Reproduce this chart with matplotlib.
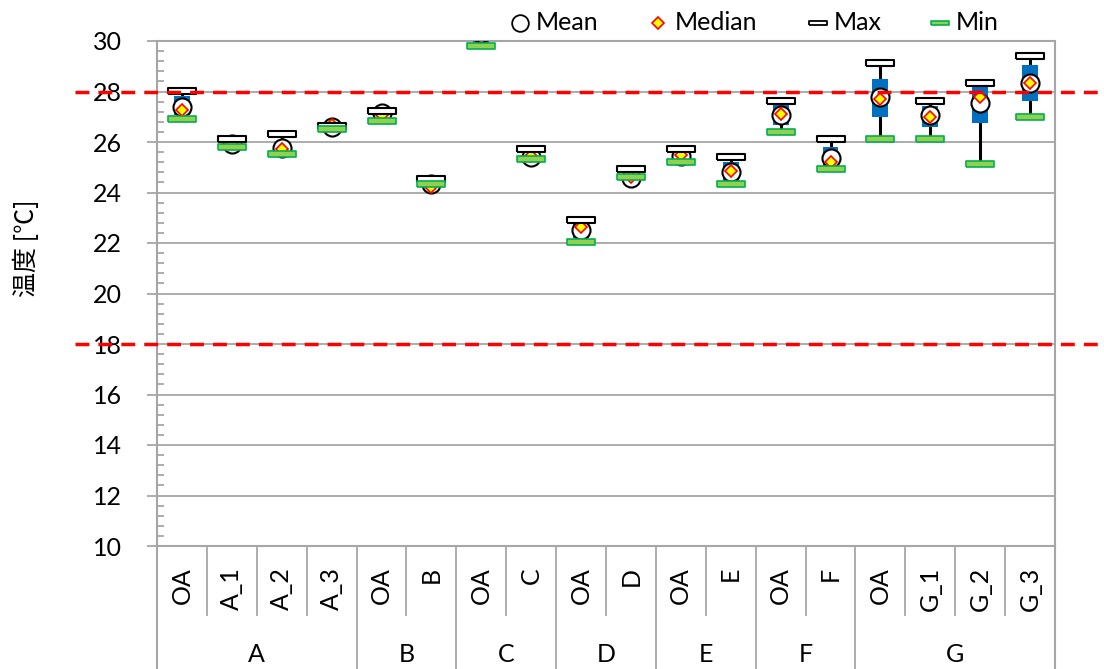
import matplotlib
matplotlib.use("Agg")
import matplotlib.pyplot as plt
from matplotlib.lines import Line2D
from matplotlib.ticker import MultipleLocator
import matplotlib.transforms as mtransforms

plt.rcParams['font.family'] = ['Lato', 'Noto Sans CJK JP', 'DejaVu Sans']

# ---- data ----
groups = ["A", "B", "C", "D", "E", "F", "G"]
group_sizes = [4, 2, 2, 2, 2, 2, 4]
subcats = ["OA", "A_1", "A_2", "A_3", "OA", "B", "OA", "C", "OA", "D",
           "OA", "E", "OA", "F", "OA", "G_1", "G_2", "G_3"]
max_vals = [28.02, 26.12, 26.32, 26.65, 27.21, 24.53, 30.60, 25.71, 22.91, 24.92,
            25.71, 25.42, 27.61, 26.11, 29.12, 27.61, 28.32, 29.42]
q3_vals = [27.83, 26.00, 25.85, 26.62, 27.15, 24.45, 30.45, 25.55, 22.78, 24.75,
           25.60, 25.22, 27.47, 25.79, 28.48, 27.43, 28.19, 29.05]
mean_vals = [27.37, 25.92, 25.75, 26.58, 27.13, 24.35, 30.30, 25.42, 22.51, 24.56,
             25.45, 24.83, 27.07, 25.35, 27.80, 27.07, 27.56, 28.35]
median_vals = [27.27, 25.95, 25.72, 26.66, 27.07, 24.22, 30.30, 25.45, 22.65, 24.63,
               25.49, 24.85, 27.11, 25.19, 27.70, 27.00, 27.80, 28.35]
q1_vals = [27.07, 25.85, 25.60, 26.55, 26.95, 24.30, 29.92, 25.35, 22.19, 24.62,
           25.35, 24.43, 26.67, 25.02, 27.00, 26.61, 26.77, 27.64]
min_vals = [26.91, 25.81, 25.52, 26.52, 26.82, 24.35, 29.82, 25.31, 22.03, 24.63,
            25.22, 24.32, 26.41, 24.92, 26.11, 26.11, 25.12, 27.00]
ref_lines = [28, 18]

# ---- figure ----
fig = plt.figure(figsize=(11.04, 6.69), dpi=100)
ax = fig.add_axes([157/1104, 1-546/669, (1055-157)/1104, (546-41)/669])

n = len(subcats)
xs = list(range(n))
ax.set_xlim(-0.5, n - 0.5)
ax.set_ylim(10, 30)

grid_c = '#a6a6a6'
ax.set_yticks(range(10, 31, 2))
ax.yaxis.set_minor_locator(MultipleLocator(0.4))
ax.yaxis.grid(True, color=grid_c, lw=1.3, zorder=0)
ax.set_axisbelow(True)
ax.tick_params(axis='y', which='major', direction='out', length=7.2, width=1.3,
               color=grid_c, labelsize=18, pad=18)
ax.tick_params(axis='y', which='minor', direction='in', length=5, width=1.3, color=grid_c)
ax.tick_params(axis='x', which='both', bottom=False, labelbottom=False)
for s in ax.spines.values():
    s.set_color(grid_c)
    s.set_linewidth(1.5)

# whiskers
ax.vlines(xs, min_vals, max_vals, color='black', lw=2.2, zorder=2)
# boxes
ax.bar(xs, [b - a for a, b in zip(q1_vals, q3_vals)], bottom=q1_vals, width=0.32,
       color='#0070C0', zorder=3)
# mean
ax.plot(xs, mean_vals, ls='none', marker='o', ms=13, mfc='white', mec='black', mew=1.5, zorder=4)
# median
ax.plot(xs, median_vals, ls='none', marker='D', ms=6, mfc='#FFFF00', mec='#FF0000', mew=1.2, zorder=5)
rect = [(-1, -0.25), (1, -0.25), (1, 0.25), (-1, 0.25), (-1, -0.25)]
ax.plot(xs, max_vals, ls='none', marker=rect, ms=20, mfc='white', mec='black', mew=1.5, zorder=6)
ax.plot(xs, min_vals, ls='none', marker=rect, ms=20, mfc='#92D050', mec='#00B050', mew=1.2, zorder=6)

# reference dashed lines extending past plot area
x0 = (75 - 157) / 898
x1 = (1104 - 157) / 898
for r in ref_lines:
    ax.plot([x0, x1], [r, r], transform=ax.get_yaxis_transform(), color='#FF0000',
            lw=2.5, dashes=(4, 2.6), clip_on=False, zorder=7)

# category axis
bt = mtransforms.blended_transform_factory(ax.transData, ax.transAxes)
short_y = (546 - 615) / 505
long_y = (546 - 669) / 505
ax.plot([0, 0], [0, long_y], transform=ax.transAxes, color=grid_c, lw=1.5, clip_on=False)
ax.plot([1, 1], [0, long_y], transform=ax.transAxes, color=grid_c, lw=1.5, clip_on=False)
bounds = []
acc = 0
for g in group_sizes[:-1]:
    acc += g
    bounds.append(acc)
for i in range(1, n):
    yb = long_y if i in bounds else short_y
    ax.plot([i - 0.5, i - 0.5], [0, yb], transform=bt, color=grid_c, lw=1.3, clip_on=False)
for i, lab in enumerate(subcats):
    ax.text(i, (546 - 567) / 505, lab, transform=bt, rotation=90, ha='center', va='top',
            fontsize=18)
start = 0
for g, size in zip(groups, group_sizes):
    cx = start + (size - 1) / 2
    ax.text(cx, (546 - 655) / 505, g, transform=bt, ha='center', va='center', fontsize=18)
    start += size

# y label
fig.text(27/1104, 1 - 248/669, '温度 [℃]', rotation=90, ha='center', va='center',
         fontsize=18, family=['Noto Sans CJK JP', 'DejaVu Sans'])

# legend (manual)
ly = 1 - 23/669
leg = [
    (520, 536, 'Mean', dict(marker='o', ms=12, mfc='white', mec='black', mew=1.3)),
    (658, 675, 'Median', dict(marker='D', ms=6, mfc='#FFFF00', mec='#FF0000', mew=1.2)),
    (818, 834, 'Max', dict(marker=rect, ms=13, mfc='white', mec='black', mew=1.3)),
    (940, 956, 'Min', dict(marker=rect, ms=13, mfc='#92D050', mec='#00B050', mew=1.2)),
]
for mx, tx, lab, kw in leg:
    fig.add_artist(Line2D([mx/1104], [ly], transform=fig.transFigure, ls='none', **kw))
    fig.text(tx/1104, ly, lab, ha='left', va='center', fontsize=18)

fig.savefig('out.png', dpi=100)
